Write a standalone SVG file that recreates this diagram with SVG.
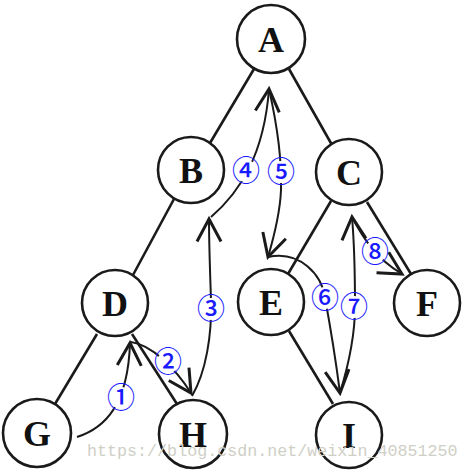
<svg xmlns="http://www.w3.org/2000/svg" width="468" height="470" viewBox="0 0 468 470">
<style>
.node circle{fill:#fff;stroke:#1a1a1a;stroke-width:2.6}
.node text{font-family:"Liberation Serif",serif;font-size:36px;font-weight:bold;fill:#111;text-anchor:middle}
.edge{stroke:#1a1a1a;stroke-width:2.6;fill:none}
.arr{stroke:#1a1a1a;stroke-width:2;fill:none}
.lbl text{font-family:"Noto Sans CJK SC","DejaVu Sans",sans-serif;font-size:28px;font-weight:500;fill:#1a1aff;text-anchor:middle}
.lbl circle{fill:#fff;stroke:none}
.wm{font-family:"Liberation Mono",monospace;font-size:16.7px;fill:#cfcfc6}
</style>
<defs>
<marker id="ah" markerUnits="userSpaceOnUse" markerWidth="30" markerHeight="30" viewBox="-16 -10 20 20" refX="0" refY="0" orient="auto">
<path d="M -15 -8 L 0 0 L -15 8" fill="none" stroke="#1a1a1a" stroke-width="2"/>
</marker>
</defs>
<g id="edges">
<line class="edge" x1="254" y1="69" x2="210" y2="143"/>
<line class="edge" x1="289" y1="69" x2="332" y2="145"/>
<line class="edge" x1="174" y1="199" x2="133" y2="275"/>
<line class="edge" x1="331" y1="201" x2="288" y2="274"/>
<line class="edge" x1="367" y1="202" x2="411" y2="274"/>
<line class="edge" x1="97" y1="334" x2="55" y2="404"/>
<line class="edge" x1="132" y1="334" x2="177" y2="404"/>
<line class="edge" x1="289" y1="331" x2="333" y2="404"/>
</g>
<g id="connectors">
<path class="arr" d="M 77 437 C 105 428, 128 405, 130 343" marker-end="url(#ah)"/>
<path class="arr" d="M 131 342 C 152 345, 175 368, 191 393" marker-end="url(#ah)"/>
<path class="arr" d="M 192 396 C 206 372, 212 335, 211 300 C 210 270, 209 245, 209 219" marker-end="url(#ah)"/>
<path class="arr" d="M 211 217 C 240 192, 264 155, 269 89" marker-end="url(#ah)"/>
<path class="arr" d="M 269 89 C 276 120, 282 160, 281 190 C 280 215, 273 240, 268 257" marker-end="url(#ah)"/>
<path class="arr" d="M 268 257 C 300 250, 322 275, 325 298 C 331 330, 337 370, 340 393" marker-end="url(#ah)"/>
<path class="arr" d="M 340 393 C 350 360, 355 335, 355 307 C 355 270, 354 240, 352 217" marker-end="url(#ah)"/>
<path class="arr" d="M 352 217 C 362 236, 375 258, 402 274" marker-end="url(#ah)"/>
</g>
<g id="labels" class="lbl">
<g id="l1"><circle cx="121" cy="398" r="11"/><text x="121" y="408">①</text></g>
<g id="l2"><circle cx="168" cy="362" r="11"/><text x="168" y="372">②</text></g>
<g id="l3"><circle cx="211" cy="309" r="11"/><text x="211" y="319">③</text></g>
<g id="l4"><circle cx="246" cy="171" r="11"/><text x="246" y="181">④</text></g>
<g id="l5"><circle cx="281" cy="172" r="11"/><text x="281" y="182">⑤</text></g>
<g id="l6"><circle cx="325" cy="298" r="11"/><text x="325" y="308">⑥</text></g>
<g id="l7"><circle cx="354" cy="307" r="11"/><text x="354" y="317">⑦</text></g>
<g id="l8"><circle cx="375" cy="252" r="11"/><text x="375" y="262">⑧</text></g>
</g>
<g id="A" class="node"><circle cx="271" cy="39" r="34"/><text x="271" y="52">A</text></g>
<g id="B" class="node"><circle cx="191" cy="170" r="33"/><text x="191" y="183">B</text></g>
<g id="C" class="node"><circle cx="349" cy="172" r="33"/><text x="349" y="185">C</text></g>
<g id="D" class="node"><circle cx="115" cy="303" r="33"/><text x="115" y="316">D</text></g>
<g id="E" class="node"><circle cx="271" cy="302" r="33"/><text x="271" y="315">E</text></g>
<g id="F" class="node"><circle cx="427" cy="303" r="33"/><text x="427" y="316">F</text></g>
<g id="G" class="node"><circle cx="37" cy="433" r="34"/><text x="37" y="446">G</text></g>
<g id="H" class="node"><circle cx="193" cy="434" r="34"/><text x="193" y="447">H</text></g>
<g id="I" class="node"><circle cx="349" cy="435" r="33"/><text x="349" y="448">I</text></g>
<text class="wm" x="87" y="456">https://blog.csdn.net/weixin_40851250</text>
</svg>
